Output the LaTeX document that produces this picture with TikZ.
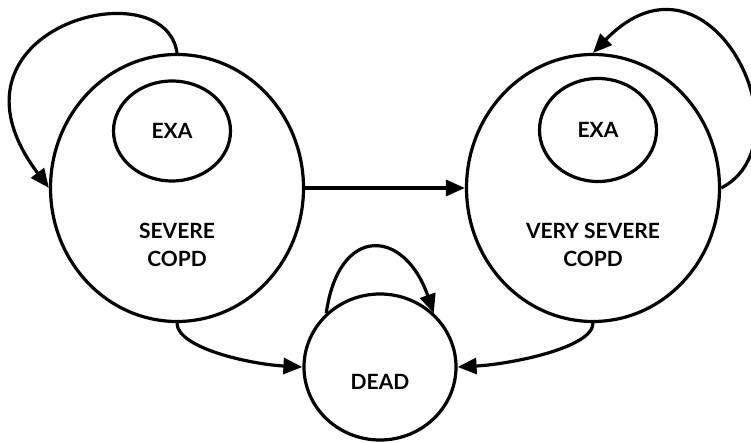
\documentclass[tikz,border=0pt]{standalone}
\usepackage{fontspec}
\setmainfont{Lato}
\usetikzlibrary{positioning}
\usetikzlibrary{arrows.meta}
\usetikzlibrary{shapes.geometric}

\begin{document}
\begin{tikzpicture}[x=1pt,y=1pt,line width=3.2pt,
  zustand/.style={ellipse,draw,inner sep=0pt},
  schrift/.style={font=\fontsize{21}{28}\selectfont\bfseries,align=center}]

  \useasboundingbox (0,0) rectangle (751,443);

  % 1. Zustaende
  \node[zustand,minimum width=253pt,minimum height=267pt] (SEV) at (177,255) {};
  \node[zustand,minimum width=253pt,minimum height=267pt] (VSEV) [right=416pt of SEV.center,anchor=center] {};
  \node[zustand,minimum width=152pt,minimum height=146pt] (DEAD) [below right=179pt and 203pt of SEV.center,anchor=center] {};

  % 2. Exazerbationen
  \node[zustand,schrift,minimum width=117pt,minimum height=100pt] (EXA1) [above left=57pt and 5pt of SEV.center,anchor=center] {EXA};
  \node[zustand,schrift,minimum width=117pt,minimum height=103pt] (EXA2) [above right=58pt and 5pt of VSEV.center,anchor=center] {EXA};

  % 3. Beschriftung
  \node[schrift] (SEVlbl)  [below=56.5pt of SEV.center,anchor=center] {SEVERE\\COPD};
  \node[schrift] (VSEVlbl) [below=56.5pt of VSEV.center,anchor=center] {VERY SEVERE\\COPD};
  \node[schrift] (DEADlbl) [below=14.5pt of DEAD.center,anchor=center] {DEAD};

  \path[->,>={Triangle[length=19pt,width=16pt]},line width=3.2pt]
    (SEV)       edge (VSEV)
    (SEV.north) edge[out=98,in=127,out distance=87pt,in distance=200pt] (SEV.west)
    (SEV.south) edge[out=-90,in=177,out distance=25pt,in distance=52pt] (DEAD.west)
    (VSEV.east) edge[out=27,in=46,out distance=101pt,in distance=168pt] (VSEV.north)
    (VSEV.south) edge[out=-90,in=3,out distance=25pt,in distance=52pt] (DEAD.east)
    (DEAD.135)  edge[out=82,in=109,distance=90pt] (DEAD.45);

\end{tikzpicture}
\end{document}
